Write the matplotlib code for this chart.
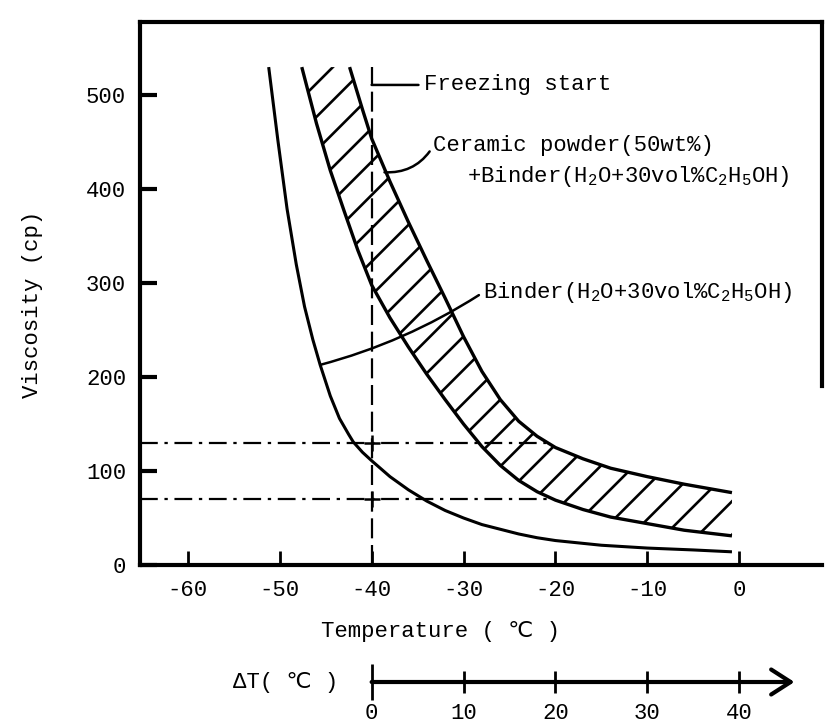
import numpy as np
import matplotlib
matplotlib.use('Agg')
from matplotlib import pyplot as plt

plt.rcParams['font.family'] = ['Liberation Mono', 'DejaVu Sans Mono', 'DejaVu Sans']
plt.rcParams['font.size'] = 16
plt.rcParams['mathtext.default'] = 'regular'
plt.rcParams['axes.unicode_minus'] = False
plt.rcParams['hatch.linewidth'] = 1.9

#---------------------------------------------------------------------------#
# values
#---------------------------------------------------------------------------#

# Binder (H2O + 30vol% C2H5OH) alone
binderT = [-51.2, -50.2, -49.2, -48.2, -47.3, -46.4, -45.6, -44.5, -43.5, -42.5,
           -42.0, -41.0, -40.0, -38.0, -36.0, -34.0, -32.0, -30.0, -28.0, -26.0,
           -24.0, -22.0, -20.0, -15.0, -10.0, -5.0, -0.8]
binderV = [530, 452, 379, 320, 275, 240, 213, 180, 156, 139,
           131, 120, 111, 94, 80, 68, 58, 50, 43, 38,
           33, 29, 26, 21, 18, 16, 14]

# Ceramic powder (50wt%) + binder : lower edge of the band
bandLowT = [-47.6, -46.0, -44.5, -43.0, -41.5, -40.0, -38.0, -36.0, -34.0, -32.0,
            -30.0, -28.0, -26.0, -24.0, -22.0, -20.0, -17.0, -14.0, -10.0, -6.0, -0.8]
bandLowV = [530, 470, 420, 377, 335, 298, 263, 232, 203, 176,
            150, 126, 106, 90, 78, 69, 59, 51, 44, 37, 31]

# upper edge of the band
bandUpT = [-42.4, -41.0, -40.0, -38.0, -36.0, -34.0, -32.0, -30.0, -28.0, -26.0,
           -24.0, -22.0, -20.0, -17.0, -14.0, -10.0, -6.0, -0.8]
bandUpV = [530, 485, 454, 408, 365, 324, 284, 243, 206, 176,
           153, 137, 125, 113, 103, 94, 86, 77]

freezeT = -40
freezeTop = 530

# dash-dot reference levels and where they stop at the band
refLevels = [130, 70]
refEndT = [-21.0, -20.4]

xTicks = [-60, -50, -40, -30, -20, -10, 0]
yTicks = [0, 100, 200, 300, 400, 500]
dTicks = [0, 10, 20, 30, 40]
dArrowEnd = 46

xMin, xMax = -65.2, 9.0
yMax = 578

#---------------------------------------------------------------------------#

fig = plt.figure(figsize=(8.26, 7.26), dpi=100)
ax = fig.add_axes([0.1695, 0.2218, 0.8257, 0.7479])

ax.plot(binderT, binderV, color='black', lw=2.2, solid_capstyle='butt')
ax.plot(bandLowT, bandLowV, color='black', lw=2.4, solid_capstyle='butt')
ax.plot(bandUpT, bandUpV, color='black', lw=2.4, solid_capstyle='butt')

polyT = np.concatenate([bandLowT, bandUpT[::-1]])
polyV = np.concatenate([bandLowV, bandUpV[::-1]])
ax.fill(polyT, polyV, facecolor='none', edgecolor='black', hatch='/', linewidth=0)

ax.plot([freezeT, freezeT], [0, freezeTop], color='black', lw=1.6,
        linestyle=(0, (9, 3)))

for level, endT in zip(refLevels, refEndT):
    ax.plot([xMin, endT], [level, level], color='black', lw=1.6,
            linestyle=(0, (8, 3, 1.5, 3)))
    ax.plot([freezeT], [level], marker='+', color='black', ms=11, mew=1.8)

ax.set_xlim(xMin, xMax)
ax.set_ylim(0, yMax)
ax.set_xticks(xTicks)
ax.set_yticks(yTicks)
ax.tick_params(axis='x', direction='in', length=10, width=2, pad=11)
ax.tick_params(axis='y', direction='in', length=12, width=3, pad=10)
for side in ['left', 'bottom', 'top', 'right']:
    ax.spines[side].set_linewidth(3)
ax.spines['right'].set_bounds(190, yMax)

ax.set_xlabel('Temperature ( \u2103 )')
ax.xaxis.set_label_coords(0.44, -0.123)
ax.xaxis.label.set_va('center')
ax.set_ylabel('Viscosity (cp)')
ax.yaxis.set_label_coords(-0.157, 0.48)
ax.yaxis.label.set_va('center')

#---------------------------------------------------------------------------#
# callouts
#---------------------------------------------------------------------------#

ax.annotate('Freezing start', xy=(freezeT, 511), xytext=(-34.3, 511),
            ha='left', va='center', fontsize=16,
            arrowprops=dict(arrowstyle='-', lw=1.8, color='black',
                            shrinkA=2, shrinkB=0, relpos=(0, 0.5)))

ax.annotate('Ceramic powder(50wt%)', xy=(-38.6, 418), xytext=(-33.3, 446),
            ha='left', va='center', fontsize=16,
            arrowprops=dict(arrowstyle='-', lw=1.8, color='black',
                            shrinkA=1, shrinkB=0, relpos=(0, 0.5),
                            connectionstyle='arc3,rad=-0.3'))
ax.text(-29.6, 413, r'+Binder(H$_2$O+30vol%C$_2$H$_5$OH)',
        ha='left', va='center', fontsize=16)

ax.annotate(r'Binder(H$_2$O+30vol%C$_2$H$_5$OH)', xy=(-45.6, 213),
            xytext=(-27.9, 290), ha='left', va='center', fontsize=16,
            arrowprops=dict(arrowstyle='-', lw=1.8, color='black',
                            shrinkA=1, shrinkB=0, relpos=(0, 0.5),
                            connectionstyle='arc3,rad=-0.08'))

#---------------------------------------------------------------------------#
# delta T scale under the chart
#---------------------------------------------------------------------------#

ax2 = fig.add_axes([0.1695, 0.0606, 0.8257, 0.03])
ax2.set_xlim(xMin - freezeT, xMax - freezeT)
ax2.set_ylim(0, 1)
for side in ['left', 'bottom', 'top', 'right']:
    ax2.spines[side].set_visible(False)
ax2.set_yticks([])
ax2.set_xticks(dTicks)
ax2.tick_params(axis='x', direction='inout', length=16, width=2, pad=7)
ax2.xaxis.get_major_ticks()[0].tick1line.set_markersize(26)
ax2.annotate('', xy=(dArrowEnd, 0), xytext=(0, 0), annotation_clip=False,
             arrowprops=dict(arrowstyle='->,head_length=0.7,head_width=0.45',
                             lw=3, color='black', shrinkA=0, shrinkB=0,
                             mutation_scale=20))
ax2.text(-3.6, 0, '\u0394T( \u2103 )', ha='right', va='center', fontsize=16,
         clip_on=False)
ax2.patch.set_visible(False)

fig.savefig('out.png', dpi=100)
